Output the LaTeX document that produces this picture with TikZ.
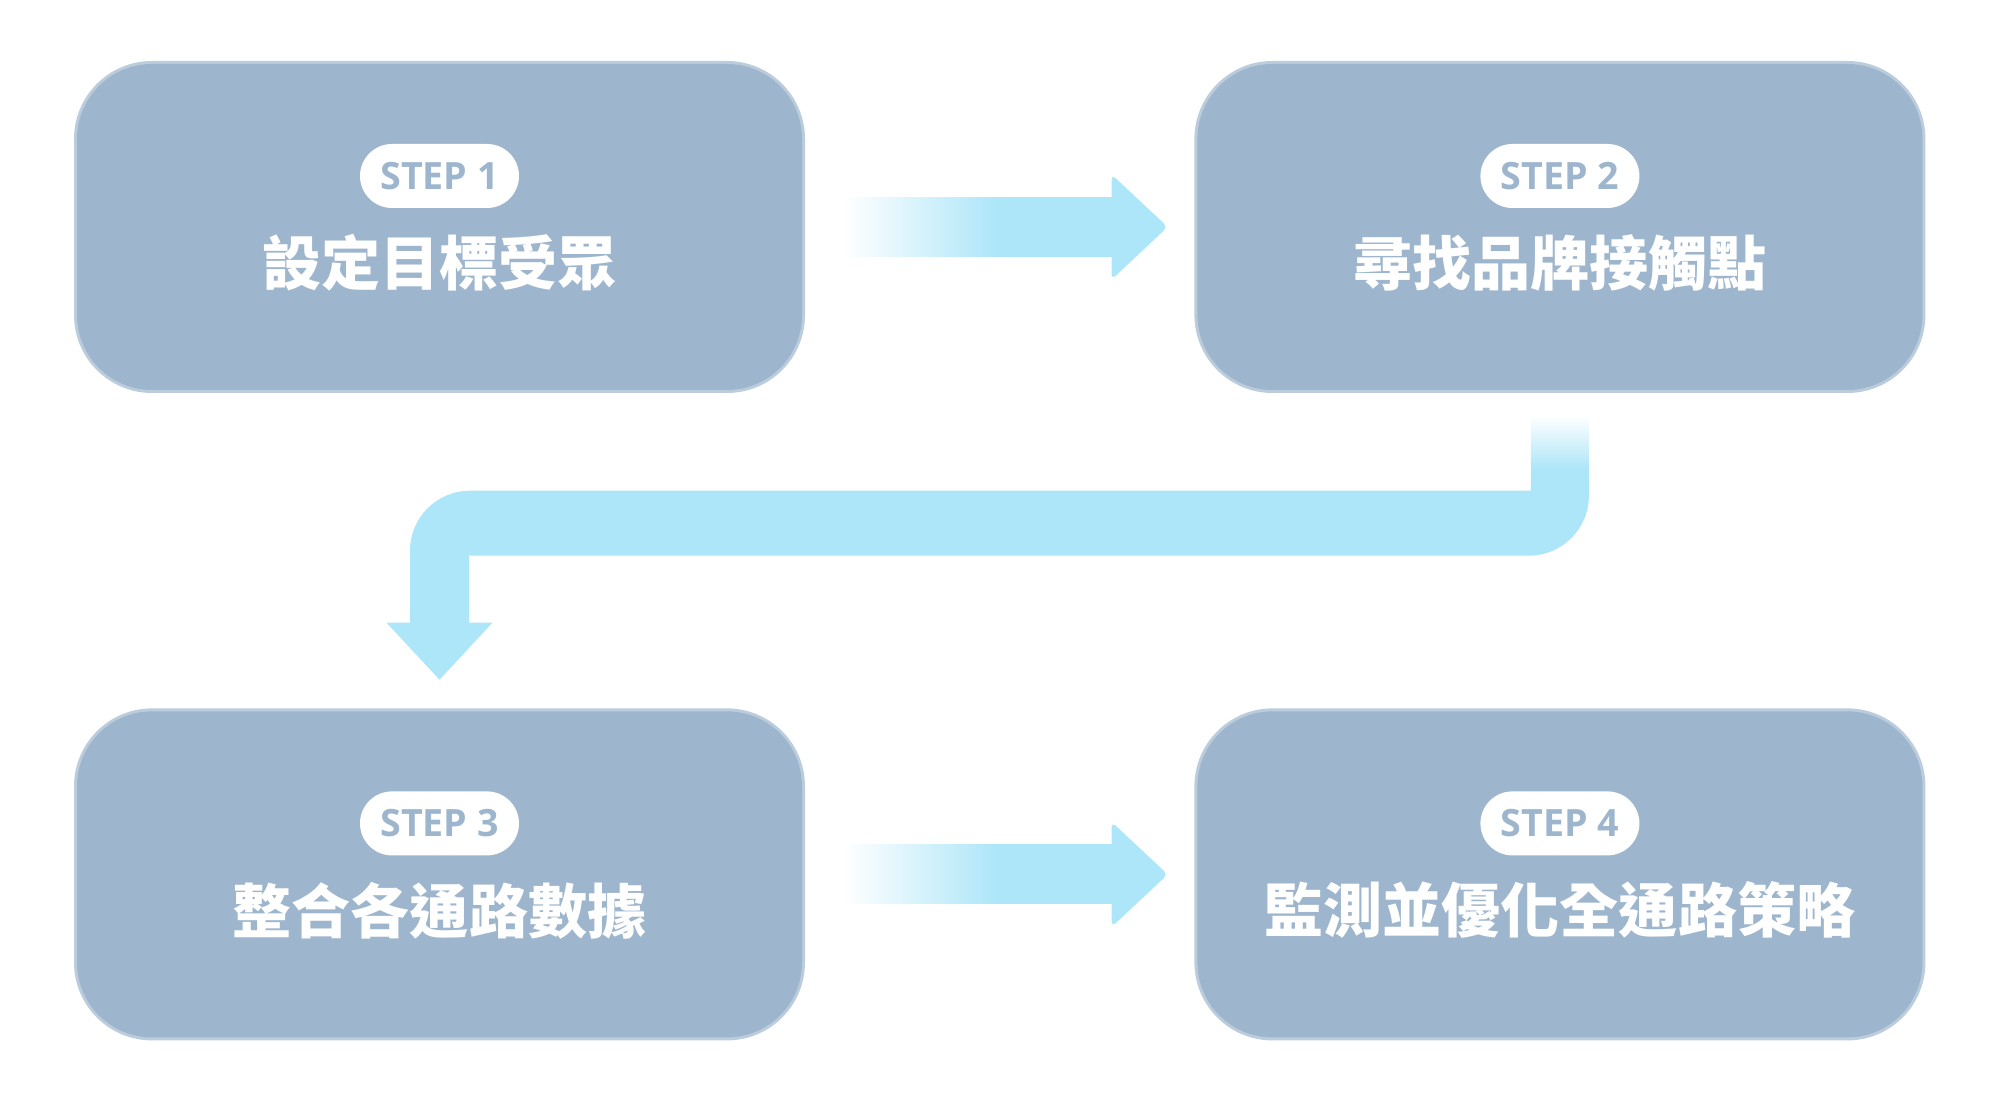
\documentclass[tikz,border=0pt]{standalone}
\usepackage{fontspec}
\usepackage{tikz}
\usetikzlibrary{positioning, calc}
\newfontfamily\cjk{Noto Sans CJK TC}
\newfontfamily\stepfont{Open Sans}
\definecolor{boxblue}{HTML}{9EB6CD}
\definecolor{arrowblue}{HTML}{AEE6F9}
\pgfdeclarehorizontalshading{barfade}{100bp}{color(0bp)=(white); color(25bp)=(white); color(53bp)=(arrowblue); color(100bp)=(arrowblue)}
\pgfdeclareverticalshading{topfade}{100bp}{color(0bp)=(arrowblue); color(40bp)=(arrowblue); color(75bp)=(white); color(100bp)=(white)}

\begin{document}
\begin{tikzpicture}
\tikzstyle{stepbox} = [rectangle, rounded corners=0.75cm, minimum width=7.25cm, minimum height=3.26cm, fill=boxblue, preaction={draw=boxblue!70!white, line width=0.06cm}]
\tikzstyle{tag} = [rectangle, rounded corners=0.32cm, minimum width=1.59cm, minimum height=0.64cm, inner sep=0pt, fill=white, text=boxblue, font=\stepfont\bfseries\fontsize{10.7pt}{12pt}\selectfont]
\tikzstyle{title} = [text=white, inner sep=0pt, font=\cjk\bfseries\fontsize{16.8pt}{20pt}\selectfont]

\useasboundingbox (0,0) rectangle (20,11);

\node (step1) [stepbox] at (4.395,8.73) {};
\node (step2) [stepbox, right=3.94cm of step1] {};
\node (step3) [stepbox, below=3.2cm of step1] {};
\node (step4) [stepbox, right=3.94cm of step3] {};

% Labels
\node (tag1) [tag] at ([yshift=0.51cm]step1.center) {STEP 1};
\node (tag2) [tag] at ([yshift=0.51cm]step2.center) {STEP 2};
\node (tag3) [tag] at ([yshift=0.51cm]step3.center) {STEP 3};
\node (tag4) [tag] at ([yshift=0.51cm]step4.center) {STEP 4};
\node (name1) [title] at ([yshift=-0.36cm]step1.center) {設定目標受眾};
\node (name2) [title] at ([yshift=-0.36cm]step2.center) {尋找品牌接觸點};
\node (name3) [title] at ([yshift=-0.36cm]step3.center) {整合各通路數據};
\node (name4) [title] at ([yshift=-0.36cm]step4.center) {監測並優化全通路策略};

% Straight arrows
\foreach \a/\b in {step1/step2, step3/step4} {
  \shade[shading=barfade] ($(\a.east)+(0.41,-0.295)$) rectangle ($(\b.west)+(-0.82,0.295)$);
  \fill[arrowblue, rounded corners=0.05cm] ($(\b.west)+(-0.85,-0.525)$) -- ($(\b.west)+(-0.29,0)$) -- ($(\b.west)+(-0.85,0.525)$) -- cycle;
}

% Elbow arrow
\shade[shading=topfade] ($(step2.south)+(-0.29,-0.25)$) rectangle ($(step2.south)+(0.29,-1.0)$);
\fill[arrowblue] ($(step2.south)+(-0.29,-0.95)$) -- ($(step2.south)+(0.29,-0.95)$)
  -- ($(step2.south |- step3.north)+(0.29,2.15)$) arc[start angle=0, end angle=-90, radius=0.6cm]
  -- ($(step3.north)+(0.295,1.55)$) -- ($(step3.north)+(0.295,0.88)$)
  -- ($(step3.north)+(0.53,0.88)$) -- ($(step3.north)+(0,0.31)$) -- ($(step3.north)+(-0.53,0.88)$)
  -- ($(step3.north)+(-0.295,0.88)$) -- ($(step3.north)+(-0.295,1.6)$)
  arc[start angle=180, end angle=90, radius=0.6cm]
  -- ($(step2.south |- step3.north)+(-0.29,2.2)$) -- cycle;

\end{tikzpicture}
\end{document}
